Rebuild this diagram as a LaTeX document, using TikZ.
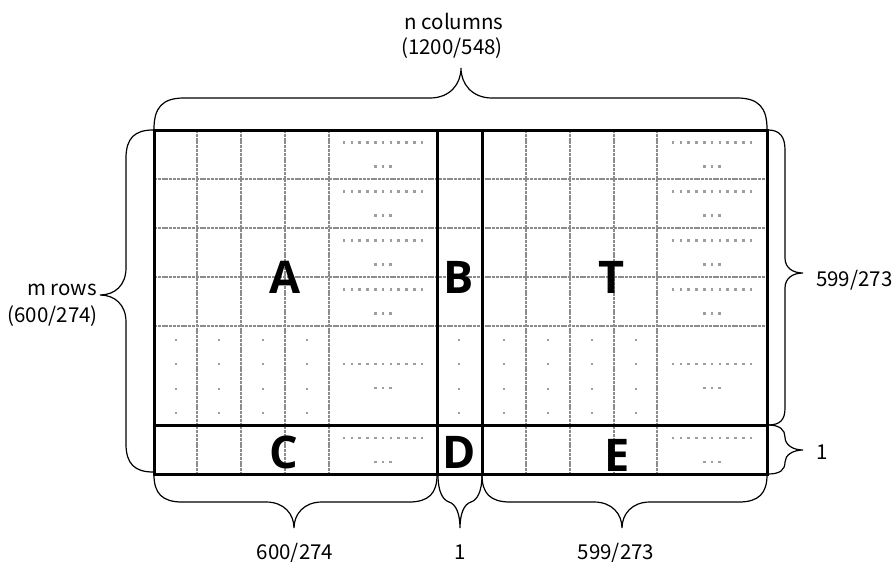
\documentclass[tikz,border=0pt]{standalone}
\usepackage{fontspec}
\newfontfamily\jpfont{Noto Sans CJK JP}
\newfontfamily\letterfont{Open Sans}
\begin{document}
\begin{tikzpicture}[x=1pt,y=-1pt,
  gridline/.style={draw=black!45, line width=1.8pt, dash pattern=on 3pt off 0.8pt},
  thick line/.style={draw=black, line width=3pt},
  bracepath/.style={draw=black, line width=1.2pt},
  dotfill/.style={fill=black!38},
  bigletter/.style={font=\letterfont\bfseries\fontsize{45}{50}\selectfont, inner sep=0pt},
  lab/.style={font=\jpfont\fontsize{20.5}{24}\selectfont, inner sep=0pt}]
\useasboundingbox (0,0) rectangle (894,562);
% corners
\coordinate (TL) at (154,130);
\coordinate (TR) at (767,130);
\coordinate (BL) at (154,474);
\coordinate (BR) at (767,474);
% gray grid lines
\foreach \y in {179,228,277,326}
  \draw[gridline] (154,\y) -- (767,\y);
\foreach \x in {197,241,285,329,526,570,614,657}
  \draw[gridline] (\x,130) -- (\x,474);
% dots: horizontal ellipses
\foreach \cx in {383,712}{
  \foreach \cy in {154.5,203.5,252.5,301.5,376,450}{
    \foreach \i in {-5,...,5}
      \fill[dotfill] ({\cx+7.8*\i-1.3},{\cy-12-1.3}) rectangle ++(2.6,2.6);
    \foreach \i in {-1,0,1}
      \fill[dotfill] ({\cx+7.5*\i-1.3},{\cy+12-1.3}) rectangle ++(2.6,2.6);
  }
}
% dots: vertical ellipses
\foreach \cx in {176,219,263,307,459,504,548,592,636}
  \foreach \cy in {340,364,389,413}
    \fill[dotfill] ({\cx-1.3},{\cy-1.3}) rectangle ++(2.6,2.6);
% thick lines
\draw[thick line] (TL) rectangle (BR);
\coordinate (B1t) at (437,130); \coordinate (B1b) at (437,474);
\coordinate (B2t) at (482,130); \coordinate (B2b) at (482,474);
\coordinate (Hl) at (154,425); \coordinate (Hr) at (767,425);
\draw[thick line] (B1t) -- (B1b);
\draw[thick line] (B2t) -- (B2b);
\draw[thick line] (Hl) -- (Hr);
% big letters
\node[bigletter] (A) at (285,277) {A};
\node[bigletter] (B) at (459,277) {B};
\node[bigletter] (T) at (612,277) {T};
\node[bigletter] (C) at (284,452) {C};
\node[bigletter] (D) at (459,452) {D};
\node[bigletter] (E) at (617,455) {E};
% braces
\draw[bracepath] (154,129) .. controls (154,108) and (162,98) .. (184,98) -- (430,98)
  .. controls (450,98) and (461,84) .. (461,68) .. controls (461,84) and (472,98) .. (492,98)
  -- (737,98) .. controls (759,98) and (767,108) .. (767,129);
\draw[bracepath] (153,130) .. controls (135,130) and (126,138) .. (126,158) -- (126,268)
  .. controls (126,285) and (115,295) .. (100,295) .. controls (115,295) and (126,305) .. (126,322)
  -- (126,444) .. controls (126,464) and (135,472) .. (153,472);
\draw[bracepath] (768,130) .. controls (780,130) and (785,137) .. (785,150) -- (785,258)
  .. controls (785,268) and (793,273) .. (803,273) .. controls (793,273) and (785,278) .. (785,288)
  -- (785,408) .. controls (785,420) and (780,425) .. (768,425);
\draw[bracepath] (768,425) .. controls (780,425) and (785,430) .. (785,437)
  .. controls (785,445) and (793,450) .. (803,450) .. controls (793,450) and (785,455) .. (785,462)
  .. controls (785,470) and (780,474) .. (768,474);
\draw[bracepath] (154,475) .. controls (154,493) and (162,502) .. (182,502) -- (266,502)
  .. controls (284,502) and (294,514) .. (294,528) .. controls (294,514) and (304,502) .. (322,502)
  -- (409,502) .. controls (429,502) and (437,493) .. (437,475);
\draw[bracepath] (438,475) .. controls (438,492) and (443,500) .. (449,502)
  .. controls (456,504) and (460,514) .. (460,528) .. controls (460,514) and (464,504) .. (471,502)
  .. controls (477,500) and (482,492) .. (482,475);
\draw[bracepath] (482,475) .. controls (482,493) and (490,502) .. (510,502) -- (594,502)
  .. controls (612,502) and (622,514) .. (622,528) .. controls (622,514) and (632,502) .. (650,502)
  -- (739,502) .. controls (759,502) and (767,493) .. (767,475);
% labels
\node[lab] (ncol) at (454,21) {n columns};
\node[lab] (ncolv) at (452,48) {(1200/548)};
\node[lab, anchor=east] (mrow) at (97,290) {m rows};
\node[lab, anchor=east] (mrowv) at (98,316) {(600/274)};
\node[lab, anchor=west] (r1) at (816,280) {599/273};
\node[lab, anchor=west] (r2) at (816,452) {1};
\node[lab, anchor=base] (b1) at (295,559) {600/274};
\node[lab, anchor=base] (b2) at (460,559) {1};
\node[lab, anchor=base] (b3) at (616,559) {599/273};
\end{tikzpicture}
\end{document}
